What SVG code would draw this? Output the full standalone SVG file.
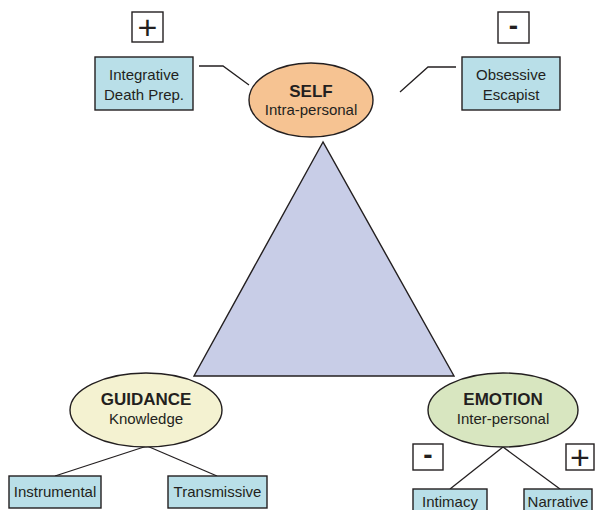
<svg xmlns="http://www.w3.org/2000/svg" width="595" height="510" viewBox="0 0 595 510">
<style>
text{font-family:"Liberation Sans",Arial,sans-serif;fill:#231f20;text-anchor:middle}
.t{font-size:15px}
.b{font-size:17px;font-weight:bold}
.box{fill:#b9dfe8;stroke:#231f20;stroke-width:1.4}
.sg{fill:#fff;stroke:#231f20;stroke-width:1.4}
.ln{fill:none;stroke:#231f20;stroke-width:1.3}
.plus{font-size:34px}
.minus{font-size:28px;font-weight:bold}
</style>
<rect width="595" height="510" fill="#fff"/>
<g id="triangle">
<polygon points="323,142 194,376 454,376" fill="#c8cde7" stroke="#231f20" stroke-width="1.4"/>
</g>
<g id="connectors">
<polyline class="ln" points="199,66 223,66 249,85"/>
<polyline class="ln" points="456,67 428,67 400,92"/>
<line class="ln" x1="147" y1="446" x2="55" y2="476"/>
<line class="ln" x1="147" y1="446" x2="217" y2="476"/>
<line class="ln" x1="503" y1="447" x2="450" y2="489"/>
<line class="ln" x1="503" y1="447" x2="560" y2="489"/>
</g>
<g id="self">
<ellipse cx="311" cy="100" rx="62" ry="37" fill="#f6c392" stroke="#231f20" stroke-width="1.4"/>
<text class="b" x="311" y="97">SELF</text>
<text class="t" x="311" y="115">Intra-personal</text>
</g>
<g id="guidance">
<ellipse cx="146" cy="410" rx="76" ry="37" fill="#f4f2d1" stroke="#231f20" stroke-width="1.4"/>
<text class="b" x="146" y="405">GUIDANCE</text>
<text class="t" x="146" y="424">Knowledge</text>
</g>
<g id="emotion">
<ellipse cx="503" cy="410" rx="75" ry="37" fill="#d8e6c0" stroke="#231f20" stroke-width="1.4"/>
<text class="b" x="503" y="405">EMOTION</text>
<text class="t" x="503" y="424">Inter-personal</text>
</g>
<g id="integrative">
<rect class="box" x="95" y="57" width="98" height="53"/>
<text class="t" x="144" y="80">Integrative</text>
<text class="t" x="144" y="100">Death Prep.</text>
</g>
<g id="obsessive">
<rect class="box" x="462" y="57" width="98" height="53"/>
<text class="t" x="511" y="80">Obsessive</text>
<text class="t" x="511" y="100">Escapist</text>
</g>
<g id="instrumental">
<rect class="box" x="9" y="476" width="92" height="32"/>
<text class="t" x="55" y="497">Instrumental</text>
</g>
<g id="transmissive">
<rect class="box" x="168" y="476" width="99" height="32"/>
<text class="t" x="217.5" y="497">Transmissive</text>
</g>
<g id="intimacy">
<rect class="box" x="413" y="489" width="74" height="30"/>
<text class="t" x="450" y="507">Intimacy</text>
</g>
<g id="narrative">
<rect class="box" x="524" y="489" width="68" height="30"/>
<text class="t" x="558" y="507">Narrative</text>
</g>
<g id="sign-plus-top">
<rect class="sg" x="132" y="12" width="31" height="30"/>
<text class="plus" x="147.5" y="39">+</text>
</g>
<g id="sign-minus-top">
<rect class="sg" x="498" y="12" width="31" height="31"/>
<text class="minus" x="513.5" y="35">-</text>
</g>
<g id="sign-minus-bottom">
<rect class="sg" x="413" y="444" width="30" height="26"/>
<text class="minus" x="428" y="464">-</text>
</g>
<g id="sign-plus-bottom">
<rect class="sg" x="566" y="444" width="28" height="26"/>
<text class="plus" x="580" y="469">+</text>
</g>
</svg>
